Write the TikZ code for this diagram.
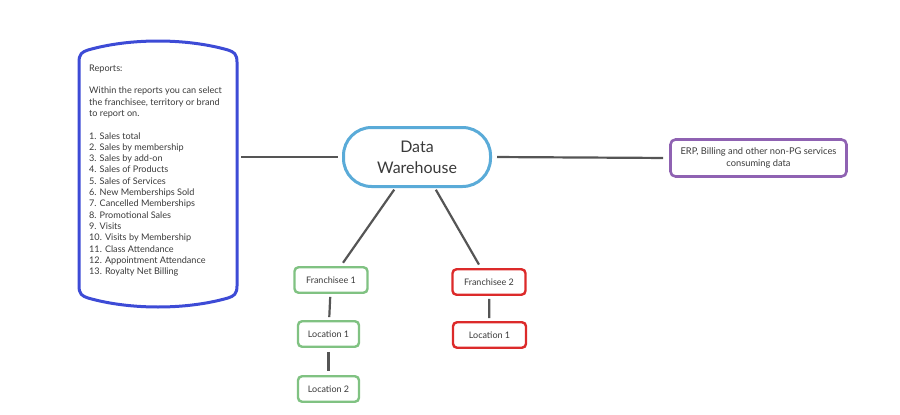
\documentclass[tikz,border=0pt]{standalone}
\usepackage{fontspec}
\setmainfont{Lato}
\definecolor{repblue}{HTML}{3D4BD6}
\definecolor{dwblue}{HTML}{5AABD8}
\definecolor{erppurple}{HTML}{8F62B2}
\definecolor{frgreen}{HTML}{80C282}
\definecolor{frred}{HTML}{DC2A2A}
\definecolor{linegray}{HTML}{555555}
\definecolor{txt}{HTML}{3A3A3A}
\begin{document}
\begin{tikzpicture}[x=1pt,y=-1pt,
  box/.style={draw,line width=2.4pt,rounded corners=4pt,inner sep=0pt,
    minimum width=73pt,minimum height=25.5pt,font=\fontsize{9}{10}\selectfont,text=txt},
  greenbox/.style={box,draw=frgreen},
  redbox/.style={box,draw=frred},
  conn/.style={draw=linegray,line width=2.2pt,shorten <=4pt,shorten >=4pt}]
\useasboundingbox (0,0) rectangle (900,415);
% Reports
\node[minimum width=158pt,minimum height=250pt,inner sep=0pt] (reports) at (158,174) {};
\draw[repblue,line width=3pt] (79,62) .. controls (79,54) and (82,52) .. (88,50)
  .. controls (130,38) and (186,38) .. (228,50)
  .. controls (234,52) and (237,54) .. (237,62) -- (237,286)
  .. controls (237,294) and (234,296) .. (228,298)
  .. controls (186,310) and (130,310) .. (88,298)
  .. controls (82,296) and (79,294) .. (79,286) -- cycle;
\node[anchor=north west,align=left,inner sep=0pt,text=txt,
  font=\fontsize{9.1}{11.3}\selectfont] (reptext) at (89,64.5) {Reports:\\[11.3pt]
Within the reports you can select\\
the franchisee, territory or brand\\
to report on.\\[11.3pt]
1. Sales total\\
2. Sales by membership\\
3. Sales by add-on\\
4. Sales of Products\\
5. Sales of Services\\
6. New Memberships Sold\\
7. Cancelled Memberships\\
8. Promotional Sales\\
9. Visits\\
10. Visits by Membership\\
11. Class Attendance\\
12. Appointment Attendance\\
13. Royalty Net Billing};
% Data warehouse
\node[draw=dwblue,line width=3pt,rounded corners=28pt,minimum width=147pt,minimum height=59pt,
  inner sep=0pt,align=center,text=txt,font=\fontsize{16}{21}\selectfont] (dw) at (417,157) {Data\\Warehouse};
% ERP
\node[draw=erppurple,line width=2.6pt,rounded corners=5pt,minimum width=176pt,minimum height=37pt,
  inner sep=0pt,align=center,text=txt,font=\fontsize{9.3}{11.5}\selectfont] (erp) at (758.5,158) {ERP, Billing and other non-PG services\\consuming data};
% Franchisees
\node[greenbox] (fr1) at (331,280) {Franchisee 1};
\node[greenbox,minimum width=61pt] (loc11) at (328.5,334) {Location 1};
\node[greenbox,minimum width=61pt] (loc12) at (328.5,389) {Location 2};
\node[redbox] (fr2) at (489,282) {Franchisee 2};
\node[redbox,minimum width=73pt] (loc21) at (489.5,335) {Location 1};
% connectors
\draw[conn] (dw.west -| reports.east) -- (dw.west);
\draw[conn,shorten <=5pt,shorten >=6pt] (dw.east) -- (erp.west);
\draw[conn,shorten <=2pt] (dw) -- (fr1);
\draw[conn,shorten <=2pt] (dw) -- (fr2);
\draw[conn,shorten <=3pt,shorten >=3pt] (fr1) -- (loc11);
\draw[conn] (loc11) -- (loc12);
\draw[conn,shorten <=3pt,shorten >=3pt] (fr2) -- (loc21);
\end{tikzpicture}
\end{document}
